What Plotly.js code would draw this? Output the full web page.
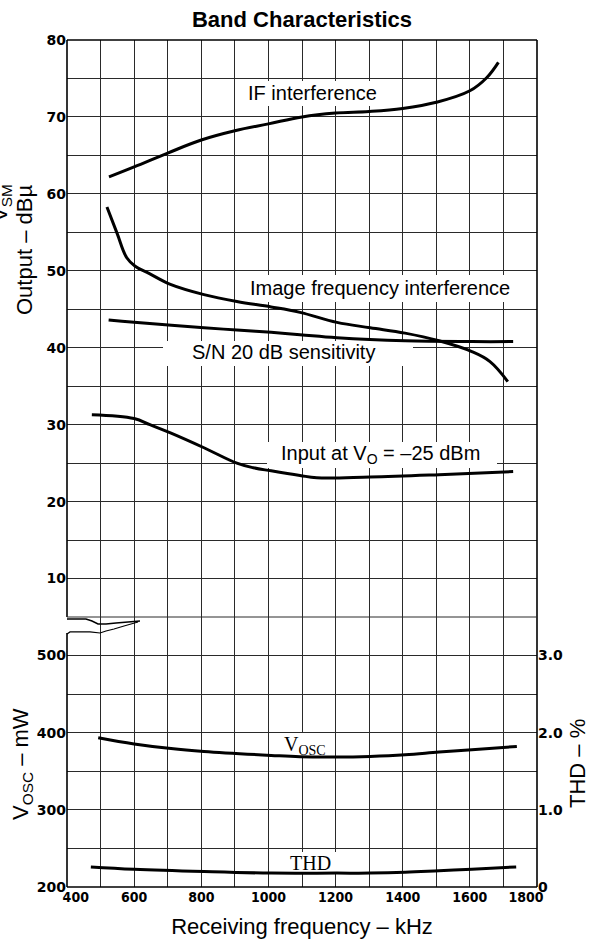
<!DOCTYPE html>
<html>
<head>
<meta charset="utf-8">
<script src="https://cdn.plot.ly/plotly-3.0.1.min.js"></script>
<style>
  html, body { margin: 0; padding: 0; background: #fff; }
  #chart { width: 592px; height: 943px; }
</style>
</head>
<body>
<div id="chart"></div>
<script>
// ---------- data ----------
const freqIF = [525, 600, 700, 800, 900, 1000, 1100, 1200, 1300, 1400, 1500, 1600, 1650, 1685];
const ifInterference = [62.2, 63.5, 65.3, 67.0, 68.2, 69.1, 70.0, 70.5, 70.7, 71.1, 71.9, 73.4, 75.1, 77.1];

const freqImage = [519, 549, 578, 603, 647, 710, 808, 906, 1008, 1094, 1204, 1303, 1407, 1508, 1606, 1660, 1713];
const imageInterference = [58.3, 54.9, 51.7, 50.6, 49.6, 48.2, 46.9, 46.0, 45.3, 44.6, 43.3, 42.6, 41.9, 40.9, 39.5, 38.2, 35.6];

const freqSN = [524, 600, 808, 906, 1008, 1094, 1204, 1407, 1606, 1729];
const snSensitivity = [43.6, 43.3, 42.6, 42.3, 42.0, 41.7, 41.3, 40.9, 40.8, 40.8];

const freqInput = [474, 600, 647, 710, 808, 906, 955, 1008, 1094, 1144, 1303, 1508, 1729];
const inputLevel = [31.3, 30.8, 30.0, 28.9, 27.0, 25.0, 24.4, 24.0, 23.4, 23.1, 23.2, 23.5, 23.9];

const freqOsc = [493, 600, 710, 808, 1008, 1094, 1204, 1303, 1407, 1508, 1606, 1740];
const vosc = [393.5, 385.5, 379.5, 375.8, 370.6, 368.8, 368.4, 369.3, 371.4, 374.9, 377.9, 382.2];

const freqTHD = [471, 600, 808, 1008, 1204, 1303, 1407, 1508, 1606, 1738];
const thd = [0.26, 0.23, 0.20, 0.18, 0.18, 0.18, 0.19, 0.21, 0.23, 0.26];

const xTickVals = [400, 600, 800, 1000, 1200, 1400, 1600, 1800];
const xTickText = ['\u00a0\u00a0\u00a0\u00a0400', '600', '800', '1000', '1200', '1400', '1600', '1800\u00a0\u00a0\u00a0\u00a0\u00a0'];
const yTopTickVals = [10, 20, 30, 40, 50, 60, 70, 80];
const yBotTickVals = [200, 300, 400, 500];
const thdTickVals = [0, 1, 2, 3];
const thdTickText = ['0', '1.0', '2.0', '3.0'];

// ---------- geometry / style ----------
const W = 592, H = 943;
const M = { l: 67, r: 55, t: 40, b: 56 };
const plotW = W - M.l - M.r, plotH = H - M.t - M.b;
const px2x = X => (X - M.l) / plotW;
const px2y = Y => (H - M.b - Y) / plotH;
// pixel -> axis value helpers (used only for label gaps in the grid)
const xRange = [400, 1800], yTopRange = [5, 80], yBotRange = [200, 550];
const pxToFreq = X => xRange[0] + px2x(X) * (xRange[1] - xRange[0]);

const splitY = px2y(617);     // boundary between the two panels
const botTopY = px2y(633);    // top of bottom panel's left border
const pxToDb = Y => yTopRange[0] + (px2y(Y) - splitY) / (1 - splitY) * (yTopRange[1] - yTopRange[0]);
const pxToMw = Y => yBotRange[0] + px2y(Y) / splitY * (yBotRange[1] - yBotRange[0]);

const gridC = '#2a2a2a';
const yTickFont = { family: 'DejaVu Sans', size: 14, color: '#000', weight: 'bold' };
const xTickFont = { family: 'DejaVu Sans Condensed, DejaVu Sans', size: 14, color: '#000', weight: 'bold' };
const textFont = { family: 'Liberation Sans, Arial', size: 20, color: '#000' };
const serifFont = { family: 'Liberation Serif, Times New Roman', size: 20, color: '#000' };
const titleFont = { family: 'Liberation Sans, Arial', size: 22, color: '#000' };

const lineStyle = { color: '#000', width: 3, shape: 'spline', smoothing: 1.1 };

const traces = [
  { x: freqIF, y: ifInterference, xaxis: 'x', yaxis: 'y', mode: 'lines', line: lineStyle, name: 'IF interference' },
  { x: freqImage, y: imageInterference, xaxis: 'x', yaxis: 'y', mode: 'lines', line: lineStyle, name: 'Image frequency interference' },
  { x: freqSN, y: snSensitivity, xaxis: 'x', yaxis: 'y', mode: 'lines', line: lineStyle, name: 'S/N 20 dB sensitivity' },
  { x: freqInput, y: inputLevel, xaxis: 'x', yaxis: 'y', mode: 'lines', line: lineStyle, name: 'Input at VO = -25 dBm' },
  { x: freqOsc, y: vosc, xaxis: 'x', yaxis: 'y2', mode: 'lines', line: lineStyle, name: 'VOSC' },
  { x: freqTHD, y: thd, xaxis: 'x', yaxis: 'y3', mode: 'lines', line: lineStyle, name: 'THD' }
];

function pathFromPx(pts) {
  return pts.map((p, i) => (i ? 'L' : 'M') + px2x(p[0]).toFixed(4) + ',' + px2y(p[1]).toFixed(4)).join(' ');
}
const breakTop = [[67,619],[86,619],[92,621],[98,624],[106,624],[116,623],[128,622],[140,621]];
const breakBot = [[67,634],[70,632],[90,632],[100,633],[106,631],[114,629],[124,626],[138,622]];

// in-plot labels: text, data position, axis, and the white gap they cut in the grid (pixels)
const labels = [
  { text: 'IF interference', x: 1130, y: 73.1, yref: 'y', font: textFont, gap: [243, 382, 81, 106] },
  { text: 'Image frequency interference', x: 1332, y: 47.8, yref: 'y', font: textFont, gap: [244, 515, 275, 302] },
  { text: 'S/N 20 dB sensitivity', x: 1046, y: 39.4, yref: 'y', font: textFont, gap: [163, 413, 341, 366] },
  { text: 'Input at V<sub>O</sub> = –25 dBm', x: 1335, y: 26.1, yref: 'y', font: textFont, gap: [267, 497, 442, 468] },
  { text: 'V<sub>OSC</sub>', x: 1109, y: 384, yref: 'y2', font: serifFont, gap: [275, 335, 733, 758] },
  { text: 'THD', x: 1124, y: 231, yref: 'y2', font: serifFont, gap: [283, 337, 852, 874] }
];

const border = { color: '#000', width: 1.6 };
const shapes = [];
labels.forEach(l => {
  const conv = l.yref === 'y' ? pxToDb : pxToMw;
  shapes.push({ type: 'rect', xref: 'x', yref: l.yref, layer: 'between',
    x0: pxToFreq(l.gap[0]), x1: pxToFreq(l.gap[1]), y0: conv(l.gap[3]), y1: conv(l.gap[2]),
    fillcolor: '#fff', line: { width: 0 } });
});
shapes.push(
  { type: 'line', xref: 'paper', yref: 'paper', x0: 0, x1: 1, y0: 1, y1: 1, line: border },
  { type: 'line', xref: 'paper', yref: 'paper', x0: 0, x1: 1, y0: 0, y1: 0, line: border },
  { type: 'line', xref: 'paper', yref: 'paper', x0: 1, x1: 1, y0: 0, y1: 1, line: border },
  { type: 'line', xref: 'paper', yref: 'paper', x0: 0, x1: 0, y0: splitY, y1: 1, line: border },
  { type: 'line', xref: 'paper', yref: 'paper', x0: 0, x1: 0, y0: 0, y1: botTopY, line: border },
  { type: 'line', xref: 'paper', yref: 'paper', x0: 0, x1: 1, y0: splitY, y1: splitY, line: { color: gridC, width: 1 } },
  { type: 'path', xref: 'paper', yref: 'paper', path: pathFromPx(breakTop), line: { color: '#000', width: 1.5 } },
  { type: 'path', xref: 'paper', yref: 'paper', path: pathFromPx(breakBot), line: { color: '#000', width: 1.2 } }
);

const annotations = labels.map(l => ({
  x: l.x, y: l.y, xref: 'x', yref: l.yref, text: l.text, showarrow: false,
  font: l.font, xanchor: 'center', yanchor: 'middle'
}));
annotations.push(
  { x: 0, xref: 'paper', xshift: -42, y: px2y(250), yref: 'paper', text: 'Output – dBµ', textangle: -90, showarrow: false, font: titleFont, xanchor: 'center', yanchor: 'middle' },
  { x: 0, xref: 'paper', xshift: -66, y: px2y(203), yref: 'paper', text: 'V<sub>SM</sub>', textangle: -90, showarrow: false, font: titleFont, xanchor: 'center', yanchor: 'middle' },
  { x: 0, xref: 'paper', xshift: -45, y: px2y(764), yref: 'paper', text: 'V<sub>OSC</sub> – mW', textangle: -90, showarrow: false, font: titleFont, xanchor: 'center', yanchor: 'middle' },
  { x: 1, xref: 'paper', xshift: 40, y: px2y(764), yref: 'paper', text: 'THD – %', textangle: -90, showarrow: false, font: titleFont, xanchor: 'center', yanchor: 'middle' }
);

const layout = {
  width: W, height: H,
  margin: M,
  paper_bgcolor: '#fff', plot_bgcolor: '#fff',
  showlegend: false,
  title: {
    text: '<b>Band Characteristics</b>',
    font: { family: 'Liberation Sans, Arial', size: 22, color: '#000' },
    x: 0.5, xanchor: 'center', xref: 'paper',
    y: 1 - 19 / H, yanchor: 'middle', yref: 'container'
  },
  xaxis: {
    range: xRange, anchor: 'y2',
    tickvals: xTickVals, ticktext: xTickText,
    showgrid: true, gridcolor: gridC, gridwidth: 1,
    minor: { dtick: 100, tick0: 0, showgrid: true, gridcolor: gridC, gridwidth: 1 },
    ticks: '', showline: false, zeroline: false,
    tickfont: xTickFont,
    title: { text: 'Receiving frequency – kHz', font: titleFont, standoff: 14 }
  },
  yaxis: {
    domain: [splitY, 1], range: yTopRange, anchor: 'x',
    tickvals: yTopTickVals,
    showgrid: true, gridcolor: gridC, gridwidth: 1,
    minor: { dtick: 5, tick0: 0, showgrid: true, gridcolor: gridC, gridwidth: 1 },
    ticks: '', showline: false, zeroline: false,
    tickfont: yTickFont
  },
  yaxis2: {
    domain: [0, splitY], range: yBotRange, anchor: 'x',
    tickvals: yBotTickVals,
    showgrid: true, gridcolor: gridC, gridwidth: 1,
    minor: { dtick: 50, tick0: 0, showgrid: true, gridcolor: gridC, gridwidth: 1 },
    ticks: '', showline: false, zeroline: false,
    tickfont: yTickFont
  },
  yaxis3: {
    overlaying: 'y2', side: 'right', anchor: 'x',
    range: [0, 3.5],
    tickvals: thdTickVals, ticktext: thdTickText,
    showgrid: false, ticks: '', showline: false, zeroline: false,
    tickfont: yTickFont
  },
  shapes: shapes,
  annotations: annotations
};

Plotly.newPlot('chart', traces, layout, { displayModeBar: false, staticPlot: true });
</script>
</body>
</html>
